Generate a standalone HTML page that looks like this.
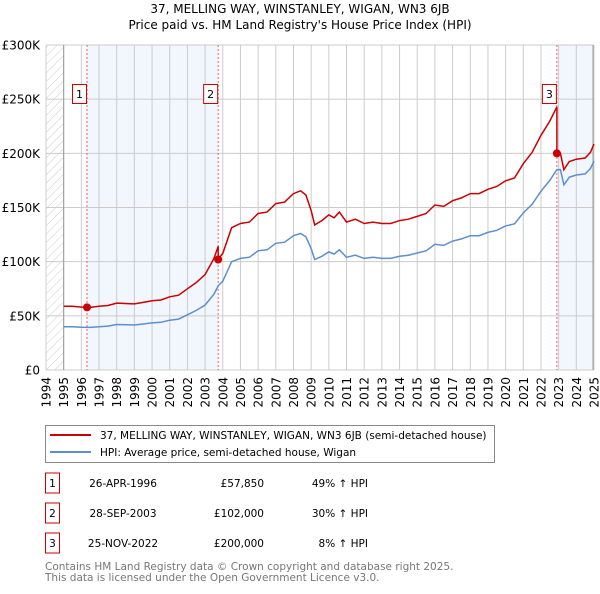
<!DOCTYPE html>
<html><head><meta charset="utf-8"><style>
body{margin:0;background:#fff;font-family:"DejaVu Sans","Liberation Sans",sans-serif;}
svg text{font-family:"DejaVu Sans","Liberation Sans",sans-serif;}
</style></head><body>
<svg id="chart" width="600" height="590" xmlns="http://www.w3.org/2000/svg">
<defs><pattern id="hatch" width="6" height="6" patternUnits="userSpaceOnUse" patternTransform="rotate(45)"><line x1="0" y1="0" x2="0" y2="6" stroke="#ccc" stroke-width="1"/></pattern></defs>
<text x="300" y="13" text-anchor="middle" font-size="12">37, MELLING WAY, WINSTANLEY, WIGAN, WN3 6JB</text>
<text x="300" y="29" text-anchor="middle" font-size="12">Price paid vs. HM Land Registry's House Price Index (HPI)</text>
<g id="plot"></g>
<g>
<rect x="45.5" y="425.5" width="449" height="37" fill="#fff" stroke="#888"/>
<line x1="50" y1="435" x2="91" y2="435" stroke="#cc0000" stroke-width="2"/>
<text x="100" y="439" font-size="10.5">37, MELLING WAY, WINSTANLEY, WIGAN, WN3 6JB (semi-detached house)</text>
<line x1="50" y1="452" x2="91" y2="452" stroke="#5b8fd0" stroke-width="2"/>
<text x="100" y="456" font-size="10.5">HPI: Average price, semi-detached house, Wigan</text>
</g>
<g id="table" font-size="10.5"></g>
<text x="45" y="570" font-size="10.5" fill="#777">Contains HM Land Registry data © Crown copyright and database right 2025.</text>
<text x="45" y="581" font-size="10.5" fill="#777">This data is licensed under the Open Government Licence v3.0.</text>
</svg>
<script>
const hpiYears=[1995,1995.5,1996,1996.5,1997,1997.5,1998,1998.5,1999,1999.5,2000,2000.5,2001,2001.5,2002,2002.5,2003,2003.5,2003.75,2004,2004.5,2005,2005.5,2006,2006.5,2007,2007.5,2008,2008.4,2008.7,2009,2009.2,2009.6,2010,2010.3,2010.6,2011,2011.5,2012,2012.5,2013,2013.5,2014,2014.5,2015,2015.5,2016,2016.5,2017,2017.5,2018,2018.5,2019,2019.5,2020,2020.5,2021,2021.5,2022,2022.5,2022.9,2023.1,2023.3,2023.6,2024,2024.5,2024.8,2025];
const hpiValues=[40,40,39.5,39.3,40,40.5,42,41.8,41.5,42.5,43.5,44,46,47,51,55,60,70,78,82,100,103,104,110,111,117,118,124,126,123,112,102,105,109,107,111,104,106,103,104,103,103,105,106,108,110,116,115,119,121,124,124,127,129,133,135,145,153,165,175,185,185,171,178,180,181,186,193];
const saleLabels=["1","2","3"];
const saleYears=[1996.32,2003.74,2022.9];
const salePrices=[57850,102000,200000];
const saleDates=["26-APR-1996","28-SEP-2003","25-NOV-2022"];
const saleDiffs=["49% ↑ HPI","30% ↑ HPI","8% ↑ HPI"];
const yTicks=[0,50,100,150,200,250,300];
const yTickLabels=["£0","£50K","£100K","£150K","£200K","£250K","£300K"];
const xStart=1994,xEnd=2025;

const NS="http://www.w3.org/2000/svg";
const L=46,R=594,T=45,B=370;
const sx=y=>L+(y-xStart)/(xEnd-xStart)*(R-L);
const sy=v=>B-v/300*(B-T);
const plot=document.getElementById('plot');
function mk(tag,attrs,parent){const e=document.createElementNS(NS,tag);for(const k in attrs)e.setAttribute(k,attrs[k]);(parent||plot).appendChild(e);return e;}
function hpiAt(y){for(let i=1;i<hpiYears.length;i++){if(y<=hpiYears[i]){const t=(y-hpiYears[i-1])/(hpiYears[i]-hpiYears[i-1]);return hpiValues[i-1]+t*(hpiValues[i]-hpiValues[i-1]);}}return hpiValues[hpiValues.length-1];}
let e;
e=mk('rect',{x:L,y:T,width:sx(1995)-L,height:B-T,fill:'url(#hatch)'});


e=mk('rect',{x:sx(saleYears[0]),y:T,width:sx(saleYears[1])-sx(saleYears[0]),height:B-T,fill:'#f2f6fd'});


e=mk('rect',{x:sx(saleYears[2]),y:T,width:R-sx(saleYears[2]),height:B-T,fill:'#f2f6fd'});


for(let y=xStart;y<=xEnd;y++){
 e=mk('line',{x1:sx(y),x2:sx(y),y1:T,y2:B,stroke:'#ccc','stroke-width':1});
 
 
 e=mk('text',{x:0,y:0,'font-size':12,'text-anchor':'end',transform:`translate(${sx(y)+4.5},377) rotate(-90)`});
 e.textContent=String(y);
 
 
}
yTicks.forEach((v,i)=>{
 e=mk('line',{x1:L,x2:R,y1:sy(v),y2:sy(v),stroke:'#ccc','stroke-width':1});
 
 
 e=mk('text',{x:40,y:sy(v)+4.5,'font-size':12,'text-anchor':'end'});
 e.textContent=yTickLabels[i];
 
 
});
e=mk('line',{x1:sx(1995),x2:sx(1995),y1:T,y2:B,stroke:'#999','stroke-width':1});


e=mk('line',{x1:R-1,x2:R-1,y1:T,y2:B,stroke:'#999','stroke-width':1});


saleYears.forEach((y,i)=>{
 e=mk('line',{x1:sx(y),x2:sx(y),y1:T,y2:B,stroke:'#f06060','stroke-width':1,'stroke-dasharray':'2,2'});
 
 
});
let d=hpiYears.map((y,i)=>(i?'L':'M')+sx(y).toFixed(1)+','+sy(hpiValues[i]).toFixed(1)).join('');
e=mk('path',{d:d,fill:'none',stroke:'#5b8fd0','stroke-width':1.5});


const ratios=saleYears.map((y,i)=>salePrices[i]/1000/hpiAt(y));
function ratioAt(y){let r=ratios[0];saleYears.forEach((s,i)=>{if(y>=s)r=ratios[i];});return r;}
let pts=[];
hpiYears.forEach((y,i)=>{
 saleYears.forEach((s,j)=>{if(i>0&&hpiYears[i-1]<s&&s<=y){pts.push([s,hpiAt(s)*(j?ratios[j-1]:ratios[0])]);pts.push([s,salePrices[j]/1000]);}});
 pts.push([y,hpiValues[i]*ratioAt(y)]);
});
d=pts.map((p,i)=>(i?'L':'M')+sx(p[0]).toFixed(1)+','+sy(p[1]).toFixed(1)).join('');
e=mk('path',{d:d,fill:'none',stroke:'#cc0000','stroke-width':1.5});


saleYears.forEach((y,i)=>{
 e=mk('circle',{cx:sx(y),cy:sy(salePrices[i]/1000),r:4,fill:'#cc0000'});
 
 
 const bx=sx(y)-9;
 const g=mk('g',{});
 
 
 mk('rect',{x:bx-5.5,y:84.5,width:14,height:19,fill:'#fff',stroke:'#cc0000'},g);
 const t=mk('text',{x:bx+1.5,y:98,'font-size':11,'text-anchor':'middle'},g);
 t.textContent=saleLabels[i];
});
const tbl=document.getElementById('table');
saleLabels.forEach((lab,i)=>{
 const cy=483+i*30;
 const g=mk('g',{},tbl);
 
 
 mk('rect',{x:45.5,y:cy-10,width:14,height:20,fill:'#fff',stroke:'#cc0000'},g);
 let t=mk('text',{x:52.5,y:cy+4,'text-anchor':'middle'},g);t.textContent=lab;
 t=mk('text',{x:123,y:cy+4,'text-anchor':'middle'},g);t.textContent=saleDates[i];
 t=mk('text',{x:264,y:cy+4,'text-anchor':'end'},g);t.textContent='£'+salePrices[i].toLocaleString('en-GB');
 t=mk('text',{x:368,y:cy+4,'text-anchor':'end'},g);t.textContent=saleDiffs[i];
});
</script>
</body></html>
